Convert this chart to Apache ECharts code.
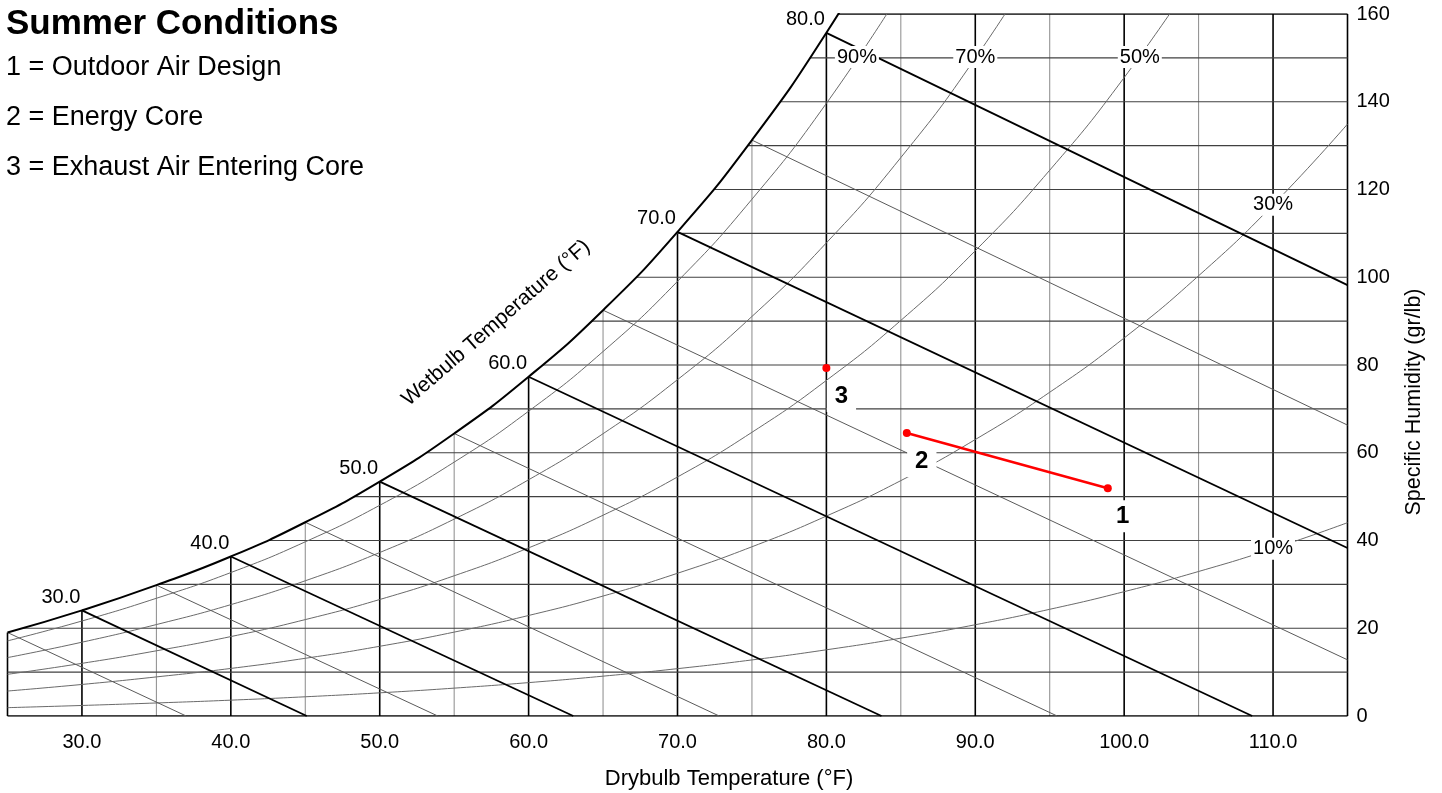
<!DOCTYPE html>
<html><head><meta charset="utf-8">
<script src="https://cdn.jsdelivr.net/npm/echarts@6/dist/echarts.min.js"></script>
<style>html,body{margin:0;padding:0;background:#fff}#c{width:1442px;height:793px}</style>
</head><body><div id="c"></div>
<script>
// ---- data ----
const temps = [25,30,35,40,45,50,55,60,65,70,75,80,85,90,95,100,105,110,115];
const satW  = [19.03,24.07,29.83,36.35,44.16,53.42,64.39,77.33,92.49,110.35,131.26,155.71,184.1];
const satTopT = 80.8;   // drybulb where saturation meets 160 gr/lb
const rh90  = [17.12,21.65,26.83,32.69,39.70,48.02,57.86,69.47,83.07,99.06,117.78,139.64,165.03];
const rh70  = [13.31,16.82,20.84,25.38,30.82,37.26,44.87,53.84,64.34,76.66,91.06,107.84,127.28,149.92,176.17];
const rh50  = [9.50,12.00,14.86,18.10,21.97,26.55,31.96,38.32,45.76,54.48,64.66,76.49,90.16,106.04,124.40,145.51,169.84];
const rh30  = [5.69,7.19,8.91,10.84,13.15,15.89,19.12,22.91,27.34,32.53,38.57,45.57,53.65,63.01,73.79,86.16,100.34,116.50,134.91];
const rh10  = [1.90,2.40,2.97,3.61,4.38,5.28,6.35,7.61,9.08,10.79,12.78,15.09,17.74,20.80,24.32,28.34,32.94,38.15,44.06];
const rhCurves = [rh90, rh70, rh50, rh30, rh10];
const rhLabelText = ['90%','70%','50%','30%','10%'];
const rhLabelT = [82.05, 90.0, 101.05, 110.0, 110.0];
const rhLabelW = [150.2, 150.2, 150.2, 116.5, 38.1];

const wbTemps  = [25,30,35,40,45,50,55,60,65,70,75,80];
const wbStartW = [19.03,24.07,29.83,36.35,44.16,53.42,64.39,77.33,92.49,110.35,131.26,155.71];
const wbEndT   = [37.0,45.1,53.9,63.0,72.8,83.7,95.5,108.6,115,115,115,115];
const wbEndW   = [0,0,0,0,0,0,0,0,12.8,38.3,66.3,98.2];

const xGrid = [25,30,35,40,45,50,55,60,65,70,75,80,85,90,95,100,105,110,115];
const yGrid = [0,10,20,30,40,50,60,70,80,90,100,110,120,130,140,150,160];

const pointNames = ['1','2','3'];
const pointT = [98.9, 85.4, 80.0];
const pointW = [51.9, 64.5, 79.3];
const processLine = [1, 0]; // indexes of points joined by the red line

const legendLines = ['1 = Outdoor Air Design','2 = Energy Core','3 = Exhaust Air Entering Core'];

// ---- chart ----
const FONT = '"Liberation Sans", Arial, sans-serif';
const series = [];
const xMin = xGrid[0], xMax = xGrid[xGrid.length - 1];
const yMax = yGrid[yGrid.length - 1];

// vertical grid lines
xGrid.forEach((v, i) => {
  const major = (v % 10 === 0) || i === 0 || i === xGrid.length - 1;
  const top = (i === 0) ? satW[0] : yMax;
  series.push({type:'line', silent:true, z:1, symbol:'none', animation:false,
    data:[[v,0],[v,top]],
    lineStyle:{color: major ? '#000' : '#8a8a8a', width: major ? 1.6 : 1}});
});
// horizontal grid lines
yGrid.forEach((w, i) => {
  const border = (i === 0 || i === yGrid.length - 1);
  const start = (i === yGrid.length - 1) ? satTopT : xMin;
  series.push({type:'line', silent:true, z:1, symbol:'none', animation:false,
    data:[[start,w],[xMax,w]],
    lineStyle:{color: border ? '#000' : '#404040', width: border ? 1.6 : 1.2}});
});
// white mask above saturation
series.push({type:'line', silent:true, z:2, symbol:'none', smooth:true, animation:false,
  data: satW.map((w,i)=>[temps[i], w]),
  lineStyle:{width:0}, areaStyle:{color:'#fff', opacity:1, origin:'end'}});
// white edge covers (hide anti-aliasing seams at mask edges)
series.push({type:'line', silent:true, z:2, symbol:'none', animation:false, clip:false,
  data:[[xMin, satW[0] + 0.5],[xMin, yMax]], lineStyle:{color:'#fff', width:4}});
series.push({type:'line', silent:true, z:2, symbol:'none', animation:false, clip:false,
  data:[[xMin, yMax],[satTopT - 0.4, yMax]], lineStyle:{color:'#fff', width:4}});
// RH curves
rhCurves.forEach(arr => {
  series.push({type:'line', silent:true, z:3, symbol:'none', smooth:true, animation:false,
    data: arr.map((w,i)=>[temps[i], w]),
    lineStyle:{color:'#6a6a6a', width:1}});
});
// wet-bulb lines
wbTemps.forEach((t,i) => {
  const major = t % 10 === 0;
  series.push({type:'line', silent:true, z:3, symbol:'none', animation:false,
    data:[[t, wbStartW[i]],[wbEndT[i], wbEndW[i]]],
    lineStyle:{color: major ? '#000' : '#5a5a5a', width: major ? 1.8 : 1}});
});
// saturation curve
series.push({type:'line', silent:true, z:4, symbol:'none', smooth:true, animation:false,
  data: satW.map((w,i)=>[temps[i], w]),
  lineStyle:{color:'#000', width:2}});
// wet-bulb labels
series.push({type:'scatter', silent:true, z:6, animation:false, symbolSize:1,
  itemStyle:{color:'rgba(0,0,0,0)', opacity:1},
  data: wbTemps.map((t,i)=>[t, wbStartW[i]]).filter(d => d[0] % 10 === 0),
  label:{show:true, position:'inside', offset:[-21,-13], color:'#000', opacity:1, fontSize:20, fontFamily:FONT,
    formatter: p => p.value[0].toFixed(1)}});
// RH labels
series.push({type:'scatter', silent:true, z:6, animation:false, symbolSize:1,
  itemStyle:{color:'rgba(0,0,0,0)', opacity:1},
  data: rhLabelText.map((s,i)=>({value:[rhLabelT[i], rhLabelW[i]], name:s})),
  label:{show:true, position:'inside', color:'#000', opacity:1, fontSize:20, fontFamily:FONT,
    backgroundColor:'#fff', padding:[1,2], formatter: p => p.name}});
// process line
series.push({type:'line', silent:true, z:5, symbol:'none', animation:false,
  data: processLine.map(i => [pointT[i], pointW[i]]),
  lineStyle:{color:'#ff0000', width:2.5}});
// points
series.push({type:'scatter', silent:true, z:7, animation:false, symbolSize:8,
  itemStyle:{color:'#ff0000', opacity:1},
  data: pointNames.map((s,i)=>({value:[pointT[i], pointW[i]], name:s})),
  label:{show:true, position:'inside', offset:[15,28], color:'#000', opacity:1, fontSize:24, fontWeight:'bold',
    fontFamily:FONT, backgroundColor:'#fff', padding:[4,8], formatter: p => p.name}});

const chart = echarts.init(document.getElementById('c'), null, {renderer:'canvas'});
chart.setOption({
  animation:false,
  backgroundColor:'#fff',
  grid:{left:7.5, right:94.5, top:14, bottom:77, containLabel:false},
  xAxis:{type:'value', min:25, max:115, interval:5,
    axisLine:{show:false}, axisTick:{show:false}, splitLine:{show:false},
    axisLabel:{color:'#000', fontSize:20, fontFamily:FONT, margin:16,
      formatter: v => (v % 10 === 0 && v > 25 && v < 115) ? v.toFixed(1) : ''}},
  yAxis:{type:'value', position:'right', min:0, max:160, interval:10,
    axisLine:{show:false}, axisTick:{show:false}, splitLine:{show:false},
    axisLabel:{color:'#000', fontSize:20, fontFamily:FONT, margin:9,
      formatter: v => (v % 20 === 0) ? String(v) : ''}},
  series: series,
  graphic:[
    {type:'text', x:6, y:24, z:10, style:{text:'Summer Conditions', font:'bold 35px '+FONT, fill:'#000', align:'left', verticalAlign:'middle'}},
    ...legendLines.map((s,i)=>({type:'text', x:6, y:68+50*i, z:10, style:{text:s, font:'27px '+FONT, fill:'#000', align:'left', verticalAlign:'middle'}})),
    {type:'text', x:729, y:779, z:10, style:{text:'Drybulb Temperature (°F)', font:'22px '+FONT, fill:'#000', align:'center', verticalAlign:'middle'}},
    {type:'text', x:1414, y:402, z:10, rotation:Math.PI/2, style:{text:'Specific Humidity (gr/lb)', font:'21.5px '+FONT, fill:'#000', align:'center', verticalAlign:'middle'}},
    {type:'text', x:496, y:323, z:10, rotation:41*Math.PI/180, style:{text:'Wetbulb Temperature (°F)', font:'21px '+FONT, fill:'#000', align:'center', verticalAlign:'middle'}}
  ]
});
</script></body></html>
